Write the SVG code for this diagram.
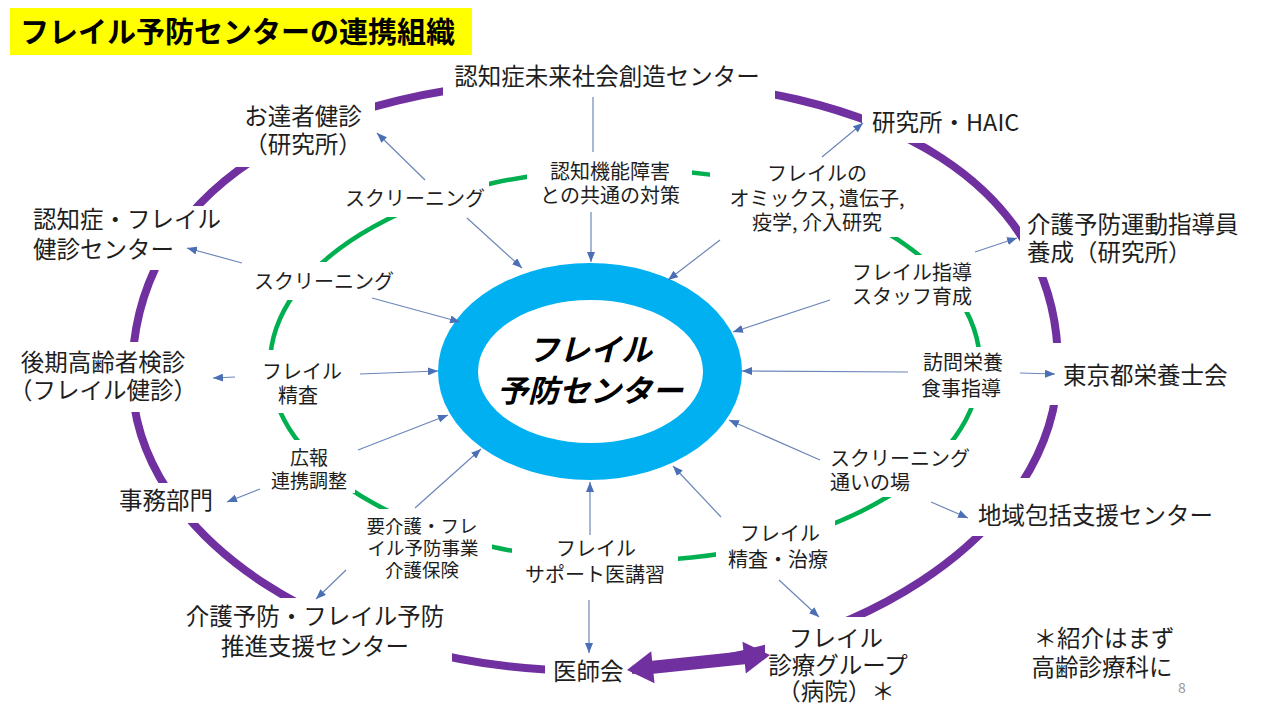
<svg xmlns="http://www.w3.org/2000/svg" width="1280" height="720" viewBox="0 0 1280 720">
<defs>
<style>
text{font-family:"Noto Sans CJK JP","Noto Sans CJK SC",sans-serif;fill:#1e1e1e}
.o{font-size:23.5px}
.i{font-size:20px}
.s{font-size:18.5px}
.m{text-anchor:middle}
.bg{fill:#ffffff}
.ring-p{fill:none;stroke:#7030A0;stroke-width:8}
.ring-g{fill:none;stroke:#00B050;stroke-width:4.5}
.c{stroke:#6B86B8;stroke-width:1.2;fill:none}
.ca{stroke:#6B86B8;stroke-width:1.2;fill:none;marker-end:url(#ah)}
</style>
<marker id="ah" viewBox="0 0 10 8" refX="10" refY="4" markerWidth="10" markerHeight="8" markerUnits="userSpaceOnUse" orient="auto">
<path d="M0,0 L10,4 L0,8 Z" fill="#4A6FB5"/>
</marker>
</defs>
<rect width="1280" height="720" fill="#ffffff"/>

<g id="rings">
<path class="ring-p" d="M600,79 C898,79 1058,193 1058,365 C1058,534 848,671 590,671 C337,671 132,539 132,376 C132,198 296,79 600,79 Z"/>
<ellipse class="ring-g" cx="625" cy="365" rx="355" ry="196"/>
</g>

<g id="title">
<rect x="10" y="8" width="462" height="47" fill="#FFFF00"/>
<text x="20" y="43" style="font-size:29px;font-weight:bold;fill:#000">フレイル予防センターの連携組織</text>
</g>

<g id="n-ninchisho-mirai">
<rect class="bg" x="443" y="58" width="332" height="42"/>
<text class="o m" x="607" y="85">認知症未来社会創造センター</text>
</g>
<g id="n-otassha">
<rect class="bg" x="235" y="95" width="140" height="72"/>
<text class="o m" x="303" y="125">お達者健診</text>
<text class="o m" x="303" y="153">（研究所）</text>
</g>
<g id="n-haic">
<rect class="bg" x="862" y="100" width="168" height="43"/>
<text class="o" x="872" y="131">研究所・HAIC</text>
</g>
<g id="n-kenshin-center">
<rect class="bg" x="25" y="206" width="205" height="64"/>
<text class="o" x="33" y="228">認知症・フレイル</text>
<text class="o" x="33" y="258">健診センター</text>
</g>
<g id="n-shidoin">
<rect class="bg" x="1020" y="205" width="228" height="72"/>
<text class="o" x="1027" y="233">介護予防運動指導員</text>
<text class="o" x="1027" y="261">養成（研究所）</text>
</g>
<g id="n-kouki">
<rect class="bg" x="12" y="342" width="182" height="70"/>
<text class="o m" x="103" y="371">後期高齢者検診</text>
<text class="o m" x="103" y="399">（フレイル健診）</text>
</g>
<g id="n-eiyoushi">
<rect class="bg" x="1040" y="343" width="195" height="62"/>
<text class="o" x="1063" y="384">東京都栄養士会</text>
</g>
<g id="n-jimu">
<rect class="bg" x="112" y="483" width="110" height="40"/>
<text class="o" x="119" y="509">事務部門</text>
</g>
<g id="n-chiiki">
<rect class="bg" x="970" y="478" width="255" height="58"/>
<text class="o" x="978" y="524">地域包括支援センター</text>
</g>
<g id="n-suishin">
<rect class="bg" x="175" y="598" width="277" height="66"/>
<text class="o m" x="315" y="625">介護予防・フレイル予防</text>
<text class="o m" x="315" y="655">推進支援センター</text>
</g>
<g id="n-ishikai">
<rect class="bg" x="545" y="650" width="87" height="42"/>
<text class="o" x="553" y="680">医師会</text>
</g>
<g id="n-shinryo">
<rect class="bg" x="765" y="617" width="145" height="90"/>
<text class="o m" x="836" y="647">フレイル</text>
<text class="o m" x="838" y="674">診療グループ</text>
<text class="o m" x="836" y="700">（病院）＊</text>
</g>
<g id="note">
<text class="o m" x="1104" y="647">＊紹介はまず</text>
<text class="o m" x="1102" y="676">高齢診療科に</text>
<text x="1178" y="693" style="font-size:14px;fill:#9a9a9a">8</text>
</g>

<g id="l-ninchikino">
<rect class="bg" x="527" y="155" width="165" height="55"/>
<text class="i m" x="610" y="179">認知機能障害</text>
<text class="i m" x="610" y="203">との共通の対策</text>
</g>
<g id="l-omics">
<rect class="bg" x="710" y="150" width="210" height="87"/>
<text class="i m" x="817" y="181">フレイルの</text>
<text class="i m" x="817" y="206">オミックス, 遺伝子,</text>
<text class="i m" x="817" y="230">疫学, 介入研究</text>
</g>
<g id="l-screening1">
<rect class="bg" x="335" y="178" width="154" height="39"/>
<text class="i m" x="415" y="206">スクリーニング</text>
</g>
<g id="l-screening2">
<rect class="bg" x="245" y="262" width="160" height="38"/>
<text class="i m" x="324" y="289">スクリーニング</text>
</g>
<g id="l-seisa">
<rect class="bg" x="252" y="350" width="100" height="63"/>
<text class="i m" x="302" y="379">フレイル</text>
<text class="i m" x="298" y="403">精査</text>
</g>
<g id="l-kouhou">
<rect class="bg" x="265" y="440" width="90" height="53"/>
<text class="i m" x="309" y="465" style="font-size:19px">広報</text>
<text class="i m" x="309" y="488" style="font-size:19px">連携調整</text>
</g>
<g id="l-youkaigo">
<rect class="bg" x="360" y="509" width="132" height="72"/>
<text class="s m" x="422" y="533">要介護・フレ</text>
<text class="s m" x="423" y="555">イル予防事業</text>
<text class="s m" x="422" y="577">介護保険</text>
</g>
<g id="l-support">
<rect class="bg" x="512" y="535" width="166" height="52"/>
<text class="i m" x="596" y="556">フレイル</text>
<text class="i m" x="595" y="582">サポート医講習</text>
</g>
<g id="l-chiryo">
<rect class="bg" x="716" y="520" width="119" height="52"/>
<text class="i m" x="780" y="541">フレイル</text>
<text class="i m" x="778" y="567">精査・治療</text>
</g>
<g id="l-kayoi">
<rect class="bg" x="825" y="440" width="155" height="57"/>
<text class="i" x="830" y="466">スクリーニング</text>
<text class="i" x="830" y="490">通いの場</text>
</g>
<g id="l-houmon">
<rect class="bg" x="912" y="347" width="100" height="61"/>
<text class="i m" x="963" y="370">訪問栄養</text>
<text class="i m" x="961" y="396">食事指導</text>
</g>
<g id="l-staff">
<rect class="bg" x="845" y="255" width="137" height="57"/>
<text class="i" x="852" y="280">フレイル指導</text>
<text class="i" x="852" y="304">スタッフ育成</text>
</g>

<g id="center">
<ellipse cx="590" cy="371.5" rx="152" ry="108.5" fill="#00B0F0"/>
<ellipse cx="590.5" cy="371.5" rx="112.5" ry="71.5" fill="#ffffff"/>
<text class="m" x="590" y="361" style="font-size:31px;font-weight:bold;font-style:italic;fill:#000">フレイル</text>
<text class="m" x="590" y="402" style="font-size:31px;font-weight:bold;font-style:italic;fill:#000">予防センター</text>
</g>

<g id="connectors">
<line class="c" x1="593" y1="97" x2="593" y2="152"/>
<line class="ca" x1="591" y1="212" x2="591" y2="262"/>
<line class="ca" x1="425" y1="180" x2="377" y2="133"/>
<line class="ca" x1="467" y1="218" x2="522" y2="268"/>
<line class="ca" x1="822" y1="157" x2="863" y2="123"/>
<line class="ca" x1="720" y1="240" x2="668" y2="280"/>
<line class="ca" x1="242" y1="263" x2="187" y2="248"/>
<line class="ca" x1="372" y1="298" x2="460" y2="322"/>
<line class="ca" x1="235" y1="377" x2="213" y2="378"/>
<line class="ca" x1="360" y1="374" x2="438" y2="371"/>
<line class="ca" x1="358" y1="450" x2="448" y2="415"/>
<line class="ca" x1="260" y1="489" x2="227" y2="502"/>
<line class="ca" x1="415" y1="508" x2="481" y2="449"/>
<line class="ca" x1="346" y1="570" x2="316" y2="599"/>
<line class="ca" x1="590" y1="535" x2="590" y2="482"/>
<line class="ca" x1="589" y1="600" x2="589" y2="653"/>
<line class="ca" x1="721" y1="517" x2="673" y2="466"/>
<line class="ca" x1="779" y1="580" x2="819" y2="617"/>
<line class="ca" x1="820" y1="460" x2="729" y2="420"/>
<line class="ca" x1="931" y1="502" x2="968" y2="518"/>
<line class="ca" x1="908" y1="372" x2="742" y2="371"/>
<line class="ca" x1="1020" y1="373" x2="1055" y2="374"/>
<line class="ca" x1="830" y1="300" x2="733" y2="332"/>
<line class="ca" x1="975" y1="252" x2="1017" y2="238"/>
<polygon fill="#7030A0" transform="translate(627,670) rotate(-6)" points="0,0 26,-16 26,-6.5 117.8,-6.5 117.8,-16 143.8,0 117.8,16 117.8,6.5 26,6.5 26,16"/>
</g>
</svg>
